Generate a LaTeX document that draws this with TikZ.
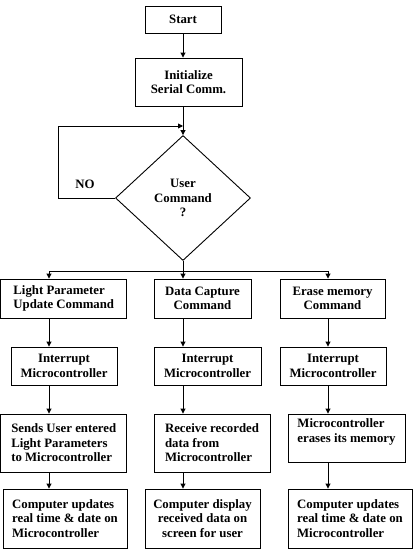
\documentclass[tikz,border=0pt]{standalone}
\usepackage{fontspec}
\setmainfont{Liberation Serif}
\usetikzlibrary{shapes.geometric,arrows.meta}

\begin{document}
\begin{tikzpicture}[x=1pt,y=-1pt,
  every node/.style={font=\fontsize{12.8}{14.5}\selectfont\bfseries, inner sep=0pt},
  blk/.style={draw, line width=0.9pt, align=center},
  lblk/.style={draw, line width=0.9pt, align=left},
  arr/.style={line width=0.9pt, -{Triangle[length=5pt,width=5pt]}},
  ln/.style={line width=0.9pt}]
\useasboundingbox (0,0) rectangle (416,554);
% top part
\node [blk, minimum width=76pt, minimum height=27pt] (start) at (183,19.5) {Start};
\node [blk, minimum width=107pt, minimum height=48pt] (init) at (188.5,82) {Initialize\\Serial Comm.};
\coordinate (loop) at (183,126);
\node [draw, diamond, line width=0.9pt, align=center, minimum width=135pt, minimum height=125pt] (user) at (183,198) {User\\Command\\?};
\coordinate (back) at (58,198);
\node (no) at (85,184) {NO};
\draw [arr] (start.south) -- (start.south |- init.north);
\draw [ln] (start.south |- init.south) -- (loop);
\draw [arr] (loop) -- (user.north);
\draw [ln] (user.west) -- (back);
\draw [arr] (back) |- (loop);
% split into the three commands
\coordinate (split) at (183,271);
\coordinate (b1) at (49,271);
\coordinate (b3) at (328,271);
\draw [ln] (user.south) -- (split);
\draw [ln] (b1) -- (b3);
% row 1
\node [lblk, minimum width=126pt, minimum height=39pt] (lp) at (63.75,298.5) {Light Parameter\\Update Command};
\node [blk, minimum width=97pt, minimum height=39pt] (dc) at (202.5,298.5) {Data Capture\\Command};
\node [blk, minimum width=105pt, minimum height=39pt] (em) at (332.5,298.5) {Erase memory\\Command};
% row 2
\node [blk, minimum width=106pt, minimum height=38pt] (int1) at (64,366) {Interrupt\\Microcontroller};
\node [blk, minimum width=107pt, minimum height=38pt] (int2) at (207.5,366) {Interrupt\\Microcontroller};
\node [blk, minimum width=106pt, minimum height=38pt] (int3) at (333,366) {Interrupt\\Microcontroller};
% row 3
\node [lblk, minimum width=126pt, minimum height=58pt] (send) at (63.75,443) {Sends User entered\\Light Parameters\\to Microcontroller};
\node [lblk, minimum width=116pt, minimum height=58pt] (recv) at (212,443) {Receive recorded\\data from\\Microcontroller};
\node [lblk, minimum width=117pt, minimum height=48pt] (erase) at (346.5,438) {Microcontroller\\erases its memory\\\mbox{}};
% row 4
\node [lblk, minimum width=124pt, minimum height=59pt] (upd1) at (65,518.5) {Computer updates\\real time \& date on\\Microcontroller};
\node [blk, minimum width=115pt, minimum height=59pt] (disp) at (202.5,518.5) {Computer display\\received data on\\screen for user};
\node [lblk, minimum width=124pt, minimum height=59pt] (upd3) at (350,518.5) {Computer updates\\real time \& date on\\Microcontroller};
% arrows down the columns
\draw [arr] (b1) -- (b1 |- lp.north);
\draw [arr] (split) -- (split |- dc.north);
\draw [arr] (b3) -- (b3 |- em.north);
\draw [arr] (lp.south -| b1) -- (int1.north -| b1);
\draw [arr] (dc.south -| split) -- (int2.north -| split);
\draw [arr] (em.south -| b3) -- (int3.north -| b3);
\draw [arr] (int1.south -| b1) -- (send.north -| b1);
\draw [arr] (int2.south -| split) -- (recv.north -| split);
\draw [arr] (int3.south -| b3) -- (erase.north -| b3);
\draw [arr] (send.south -| b1) -- (upd1.north -| b1);
\draw [arr] (recv.south -| split) -- (disp.north -| split);
\draw [arr] (erase.south -| b3) -- (upd3.north -| b3);
\end{tikzpicture}
\end{document}
